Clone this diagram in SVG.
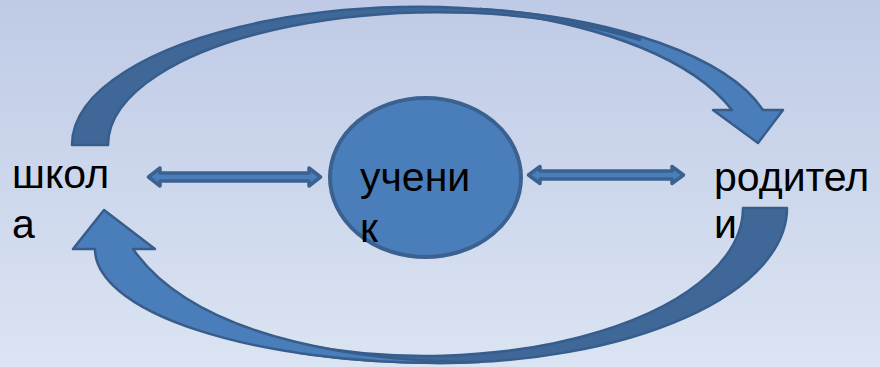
<svg xmlns="http://www.w3.org/2000/svg" width="880" height="367" viewBox="0 0 880 367">
  <defs>
    <linearGradient id="bg" x1="0" y1="0" x2="0" y2="1">
      <stop offset="0" stop-color="#bfcae6"/>
      <stop offset="1" stop-color="#dbe4f2"/>
    </linearGradient>
    <style>
      .lbl { font-family: "Liberation Sans", Arial, sans-serif; font-size: 41px; fill: #000; }
      .front { fill: #4a7ebb; stroke: #385d8a; stroke-width: 2.5; stroke-linejoin: round; }
      .back { fill: #3f6898; stroke: #375d8c; stroke-width: 2.5; stroke-linejoin: round; }
      .dbl { fill: #4a7ebb; stroke: #3b6191; stroke-width: 3.5; stroke-linejoin: round; }
    </style>
  </defs>
  <rect x="0" y="0" width="880" height="367" fill="url(#bg)"/>

  <g id="connectors">
    <!-- top curved arrow: школа -> родители -->
    <g id="arrow-top">
      <path class="front" d="M 480,9 A 348 138 0 0 1 763,110 L 783,110 L 758,143 L 713,110 L 732,110 C 695,62 610,25 480,9 Z"/>
      <path class="back" d="M 72,145 A 348 138 0 0 1 640,38 L 640,40 A 330 133 0 0 0 108,145 Z"/>
    </g>
    <!-- bottom curved arrow: родители -> школа -->
    <g id="arrow-bottom">
      <path class="back" d="M 787,208 A 347 155 0 0 1 440,363 A 345 114 0 0 1 300,353 L 300,344 A 318 148 0 0 0 743,208 Z"/>
      <path class="front" d="M 95,249 A 345 114 0 0 0 440,363 A 347 155 0 0 0 480,362 C 380,362 200,345 133,249 L 155,249 L 104,210 L 73,249 Z"/>
    </g>
    <!-- double arrows -->
    <path id="arrow-school-student" class="dbl" d="M 148.5,177 L 160,168 L 160,173 L 309,173 L 309,168 L 320.5,177 L 309,186 L 309,181 L 160,181 L 160,186 Z"/>
    <path id="arrow-student-parents" class="dbl" d="M 528.5,175 L 540,166.5 L 540,171 L 672,171 L 672,166.5 L 683.5,175 L 672,183.5 L 672,179 L 540,179 L 540,183.5 Z"/>
  </g>

  <g id="node-school">
    <text class="lbl" x="12" y="188">школ<tspan x="12" y="238">а</tspan></text>
  </g>

  <g id="node-student">
    <ellipse cx="425.5" cy="177.5" rx="95.5" ry="79.5" fill="#4a7ebb" stroke="#3b6191" stroke-width="4"/>
    <text class="lbl" x="360" y="191">учени<tspan x="360" y="242">к</tspan></text>
  </g>

  <g id="node-parents">
    <text class="lbl" x="714" y="191">родител<tspan x="714" y="238">и</tspan></text>
  </g>
</svg>
